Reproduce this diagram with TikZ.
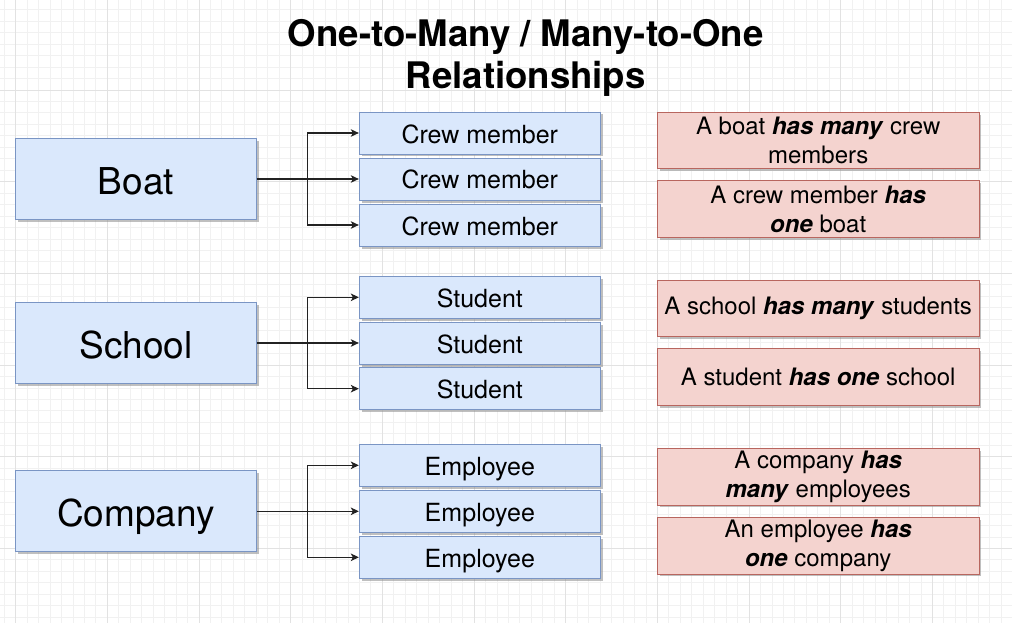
\documentclass[tikz,border=0pt]{standalone}
\usepackage{fontspec}
\setmainfont{TeX Gyre Heros}
\usetikzlibrary{arrows.meta,shadows}

\definecolor{gridminor}{HTML}{F1F1F1}
\definecolor{gridmajor}{HTML}{E2E2E2}
\definecolor{entfill}{HTML}{DAE8FC}
\definecolor{entdraw}{HTML}{7A95C4}
\definecolor{notefill}{HTML}{F4D3CF}
\definecolor{notedraw}{HTML}{B8665F}
\definecolor{linkcol}{HTML}{222222}

\tikzset{
  boxshadow/.style={drop shadow={shadow xshift=2.5pt,shadow yshift=-2.5pt,fill=black!45,opacity=0.55}},
  entity/.style={draw=entdraw,fill=entfill,line width=0.9pt,boxshadow,
    minimum width=241pt,minimum height=81pt,inner sep=0pt,
    text height=30.5pt,text depth=0pt,
    font=\fontsize{37}{42}\selectfont},
  child/.style={draw=entdraw,fill=entfill,line width=0.9pt,boxshadow,
    minimum width=241pt,minimum height=42pt,inner sep=0pt,
    text height=20pt,text depth=0pt,
    font=\fontsize{25}{29}\selectfont},
  note/.style={draw=notedraw,fill=notefill,line width=0.9pt,boxshadow,
    minimum width=321.5pt,minimum height=56.5pt,inner sep=0pt,align=center,
    font=\fontsize{24}{29}\selectfont},
  link/.style={draw=linkcol,line width=1.2pt,
    -{Stealth[length=8pt,width=7.5pt,inset=2pt]}},
  title/.style={align=center,font=\fontsize{36.6}{42.5}\selectfont\bfseries}
}

% bold italic emphasis in the note boxes
\newcommand{\hl}[1]{\textbf{\textit{#1}}}

\begin{document}
\begin{tikzpicture}[x=1pt,y=-1pt]
  \useasboundingbox (0,0) rectangle (1012,623);
  \fill[white] (0,0) rectangle (1012,623);

  % background grid: minor lines, then every eighth line darker
  \foreach \i in {-1,...,86} {
    \draw[gridminor,line width=0.8pt] ({15.6+11.46*\i},0) -- ({15.6+11.46*\i},623);
  }
  \foreach \j in {1,...,54} {
    \draw[gridminor,line width=0.8pt] (0,{-1.7+11.46*\j}) -- (1012,{-1.7+11.46*\j});
  }
  \foreach \i in {0,...,10} {
    \draw[gridmajor,line width=0.8pt] ({15.6+91.68*\i},0) -- ({15.6+91.68*\i},623);
  }
  \foreach \j in {1,...,6} {
    \draw[gridmajor,line width=0.8pt] (0,{-1.7+91.68*\j}) -- (1012,{-1.7+91.68*\j});
  }

  % heading
  \node[title] (heading) at (525.7,58) {One-to-Many / Many-to-One\\Relationships};

  % boat group
  \node[entity] (boat) at (136,179) {Boat};
  \node[child] (crew1) at (479.8,133) {Crew member};
  \node[child] (crew2) at (479.8,179) {Crew member};
  \node[child] (crew3) at (479.8,225) {Crew member};
  \node[note] (boatmany) at (818.2,140.5) {A boat \hl{has many} crew\\members};
  \node[note] (crewone) at (818.2,209) {A crew member \hl{has}\\\hl{one} boat};

  % school group
  \node[entity] (school) at (136,343) {School};
  \node[child] (stud1) at (479.8,297.3) {Student};
  \node[child] (stud2) at (479.8,343) {Student};
  \node[child] (stud3) at (479.8,388.7) {Student};
  \node[note] (schoolmany) at (818.2,308.3) {A school \hl{has many} students};
  \node[note] (studone) at (818.2,377) {A student \hl{has one} school};

  % company group
  \node[entity] (company) at (136,511.3) {Company};
  \node[child] (emp1) at (479.8,465.3) {Employee};
  \node[child] (emp2) at (479.8,511.3) {Employee};
  \node[child] (emp3) at (479.8,557.3) {Employee};
  \node[note] (companymany) at (818.2,476.7) {A company \hl{has}\\\hl{many} employees};
  \node[note] (empone) at (818.2,545.7) {An employee \hl{has}\\\hl{one} company};

  % fan-out connectors
  \coordinate (boatbus) at (307.3,179);
  \coordinate (schoolbus) at (307.3,343);
  \coordinate (companybus) at (307.3,511.3);

  \draw[link] (boat.east) -- (boatbus) |- (crew1.west);
  \draw[link] (boat.east) -- (crew2.west);
  \draw[link] (boatbus) |- (crew3.west);

  \draw[link] (school.east) -- (schoolbus) |- (stud1.west);
  \draw[link] (school.east) -- (stud2.west);
  \draw[link] (schoolbus) |- (stud3.west);

  \draw[link] (company.east) -- (companybus) |- (emp1.west);
  \draw[link] (company.east) -- (emp2.west);
  \draw[link] (companybus) |- (emp3.west);
\end{tikzpicture}
\end{document}
